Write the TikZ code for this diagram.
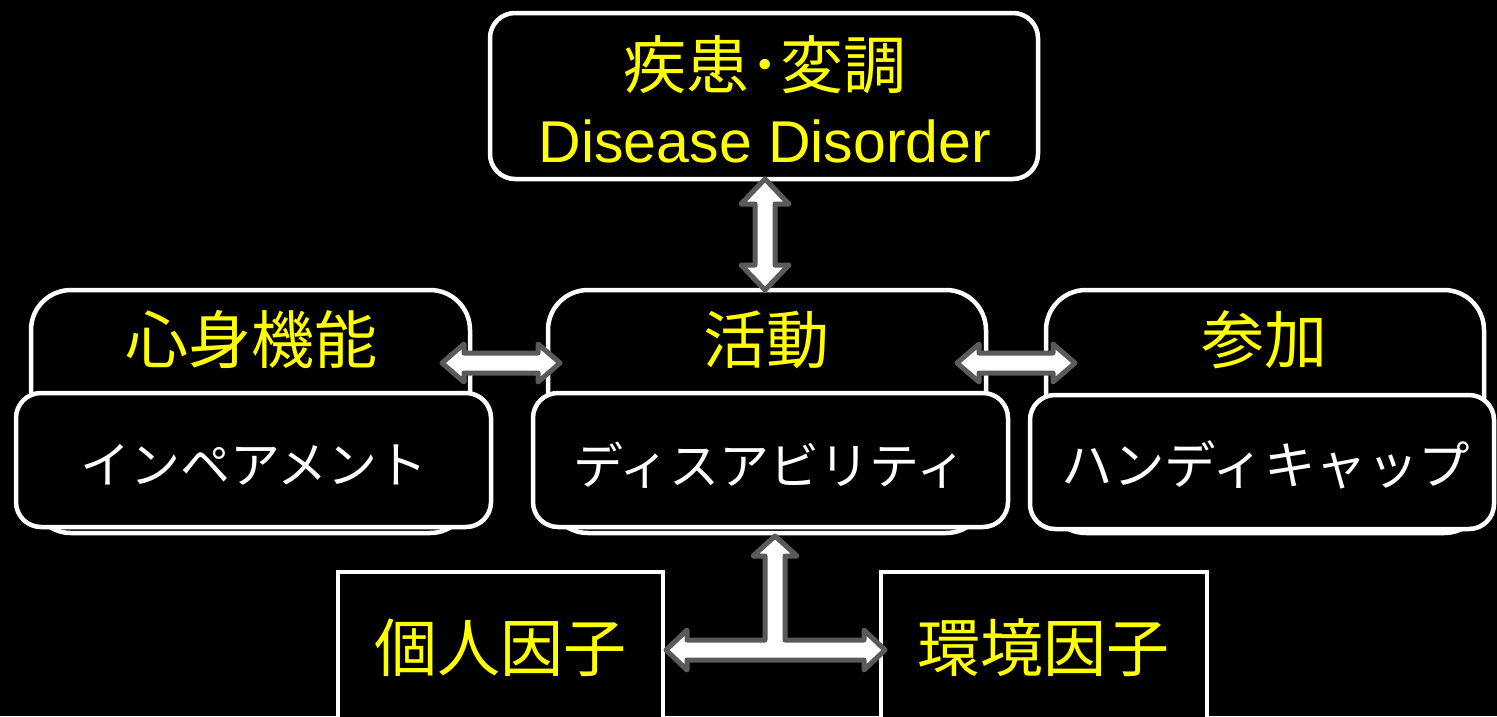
\documentclass[tikz,border=0pt]{standalone}
\usepackage{fontspec}
\setmainfont{Noto Sans CJK JP}
\newfontfamily\latinfont{Liberation Sans}
\usetikzlibrary{calc}
\definecolor{ylw}{RGB}{255,255,0}
\definecolor{agray}{RGB}{90,90,90}
\begin{document}
\begin{tikzpicture}[x=1pt,y=-1pt,
  box/.style={draw=white,line width=4.5pt,fill=black,inner sep=0pt,outer sep=0pt},
  rbox/.style={box,rounded corners=#1},
  head/.style={text=ylw,font=\fontsize{63}{75}\selectfont,inner sep=0pt},
  sub/.style={text=white,font=\fontsize{50}{60}\selectfont,inner sep=0pt},
  blockarrow/.style={draw=agray,fill=white,line width=5pt,line join=round}]
\useasboundingbox (0,0) rectangle (1497,716);
\fill[black] (0,0) rectangle (1497,716);
\begin{scope}
\clip (0,0) rectangle (1497,716);
% boxes
\node[rbox=25pt,minimum width=548pt,minimum height=166pt] (top) at (764,96) {};
\node[rbox=40pt,minimum width=439pt,minimum height=243pt] (upL) at (250.5,411.5) {};
\node[rbox=25pt,minimum width=475pt,minimum height=134pt] (loL) at (253.5,460) {};
\node[rbox=40pt,minimum width=438pt,minimum height=243pt] (upM) at (767,411.5) {};
\node[rbox=25pt,minimum width=475pt,minimum height=134pt] (loM) at (770.5,460) {};
\node[rbox=40pt,minimum width=438pt,minimum height=243pt] (upR) at (1265,411.5) {};
\node[rbox=25pt,minimum width=464pt,minimum height=134pt] (loR) at (1262,462) {};
\node[box,minimum width=325pt,minimum height=170pt] (ind) at (500.5,657) {};
\node[box,minimum width=326pt,minimum height=170pt] (env) at (1044,657) {};
% texts
\node[head] (t1) at (765,65) {疾患･変調};
\node[text=ylw,inner sep=0pt,font=\latinfont\fontsize{59}{70}\selectfont] (t2) at (765,141) {Disease Disorder};
\node[head] (hL) at (251,340) {心身機能};
\node[head] (hM) at (766,340) {活動};
\node[head] (hR) at (1264,340) {参加};
\node[sub] (sL) at (254,465) {インペアメント};
\node[sub] (sM) at (770,465) {ディスアビリティ};
\node[sub,font=\fontsize{51.5}{62}\selectfont] (sR) at (1266,465) {ハンディキャップ};
\node[head] (fI) at (500,648) {個人因子};
\node[head] (fE) at (1043,648) {環境因子};
% arrow end points
\coordinate (v1) at (top.south -| 765,0);
\coordinate (v2) at (upM.north -| 765,0);
\coordinate (hl1) at (442,363);
\coordinate (hl2) at (560,363);
\coordinate (hr1) at (957,363);
\coordinate (hr2) at (1075,363);
\coordinate (c1) at (775,536);
\coordinate (c2) at (666,650);
\coordinate (c3) at (885,650);
% vertical double arrow
\draw[blockarrow] (v1) -- ++(24,25) -- ++(-14,0) -- ($(v2)+(10,-25)$) -- ++(14,0) -- (v2)
  -- ++(-24,-25) -- ++(14,0) -- ($(v1)+(-10,25)$) -- ++(-14,0) -- cycle;
% horizontal double arrows
\draw[blockarrow] (hl1) -- ++(22,-19) -- ++(0,9) -- ($(hl2)+(-22,-10)$) -- ++(0,-9) -- (hl2)
  -- ++(-22,19) -- ++(0,-9) -- ($(hl1)+(22,10)$) -- ++(0,9) -- cycle;
\draw[blockarrow] (hr1) -- ++(22,-19) -- ++(0,9) -- ($(hr2)+(-22,-10)$) -- ++(0,-9) -- (hr2)
  -- ++(-22,19) -- ++(0,-9) -- ($(hr1)+(22,10)$) -- ++(0,9) -- cycle;
% T-shaped arrow
\draw[blockarrow] (c1) -- ++(22,20) -- ++(-12,0) -- ($(c1)+(10,104)$) -- ($(c3)+(-21,-10)$)
  -- ++(0,-10) -- (c3) -- ++(-21,20) -- ++(0,-10) -- ($(c2)+(21,10)$) -- ++(0,10) -- (c2)
  -- ++(21,-20) -- ++(0,10) -- ($(c1)+(-10,104)$) -- ($(c1)+(-10,20)$) -- ++(-12,0) -- cycle;
\end{scope}
\end{tikzpicture}
\end{document}
